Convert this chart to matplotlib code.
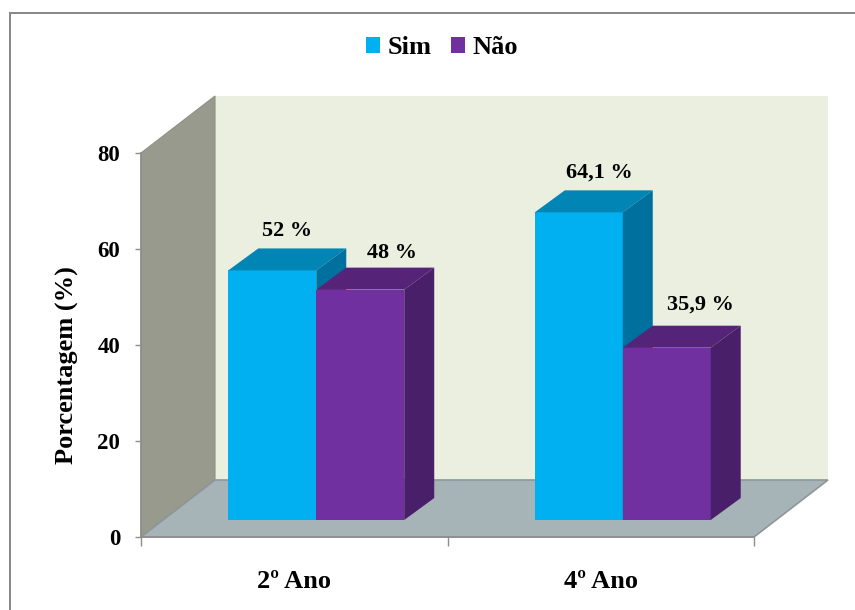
#Percentage of answers per school year, drawn as pseudo 3D columns
import matplotlib.pyplot as plt
from matplotlib.patches import Patch, Polygon, Rectangle

# Data
anos = ['2º Ano', '4º Ano']
sim = [52, 64.1]
nao = [48, 35.9]
sim_labels = ['52 %', '64,1 %']
nao_labels = ['48 %', '35,9 %']
y_ticks = [0, 20, 40, 60, 80]

plt.rcParams['font.family'] = ['Liberation Serif', 'DejaVu Serif']
plt.rcParams['font.weight'] = 'bold'

# Depth of the box and of the columns, in axis units
wall_dx, wall_dy = 0.2414, 11.875
base_dx, base_dy = 0.0718, 3.54
bar_dx, bar_dy = 0.0979, 4.58
bar_w = 0.287

fig = plt.figure(figsize=(8.55, 6.10), dpi=100)
ax = fig.add_axes([141/855, 73/610, 613/855, 384/610])
ax.set_xlim(0, 2)
ax.set_ylim(0, 80)

# Outer frame, only top and left edges are visible
fig.add_artist(Rectangle((10/855, -0.1), 1.1, 0.1 + 597/610, transform=fig.transFigure,
                         fill=False, ec='#868686', lw=1.4))

# Back wall, side wall and floor
wall = dict(clip_on=False, zorder=1)
ax.add_patch(Rectangle((wall_dx, wall_dy), 2, 80, fc='#EBEFDF', ec='none', **wall))
ax.add_patch(Polygon([(0, 0), (0, 80), (wall_dx, 80 + wall_dy), (wall_dx, wall_dy)],
                     fc='#979A8C', ec='#8C8F82', lw=0.8, **wall))
ax.add_patch(Polygon([(0, 0), (wall_dx, wall_dy), (2 + wall_dx, wall_dy), (2, 0)],
                     fc='#A6B4B8', ec='#8E9699', lw=1.2, **wall))


def column(x, value, front, top, side):
    # Front face comes from the bar call, top and side are added on it
    ax.bar(x, value, bar_w, bottom=base_dy, align='edge', color=front, clip_on=False, zorder=3)
    y0 = base_dy
    y1 = base_dy + value
    x1 = x + bar_w
    ax.add_patch(Polygon([(x, y1), (x + bar_dx, y1 + bar_dy), (x1 + bar_dx, y1 + bar_dy), (x1, y1)],
                         fc=top, ec='none', clip_on=False, zorder=3))
    ax.add_patch(Polygon([(x1, y0), (x1, y1), (x1 + bar_dx, y1 + bar_dy), (x1 + bar_dx, y0 + bar_dy)],
                         fc=side, ec='none', clip_on=False, zorder=3))


# label shift from the column top, in pixels
sim_off = [(0, 17), (6, 18)]
nao_off = [(26.5, 15), (28, 21)]
for i in range(len(anos)):
    centre = i + 0.5 + base_dx
    column(centre - bar_w, sim[i], '#00B0F0', '#0085B5', '#00719F')
    column(centre, nao[i], '#7030A0', '#552378', '#4A1F69')
    ax.annotate(sim_labels[i], (centre - bar_w/2 + bar_dx/2, base_dy + sim[i] + bar_dy),
                xytext=(sim_off[i][0]*0.72, sim_off[i][1]*0.72), textcoords='offset points',
                ha='center', va='center', fontsize=16, annotation_clip=False, zorder=5)
    ax.annotate(nao_labels[i], (centre + bar_w/2 + bar_dx/2, base_dy + nao[i] + bar_dy),
                xytext=(nao_off[i][0]*0.72 - 7, nao_off[i][1]*0.72), textcoords='offset points',
                ha='center', va='center', fontsize=16, annotation_clip=False, zorder=5)

# Axes
for s in ['top', 'right']:
    ax.spines[s].set_visible(False)
for s in ['left', 'bottom']:
    ax.spines[s].set_color('#8E8E8E')
    ax.spines[s].set_linewidth(1.2)
    ax.spines[s].set_zorder(2)
ax.set_yticks(y_ticks)
ax.tick_params(axis='y', length=4.5, width=1, color='#8E8E8E', labelsize=16.5, pad=10.5)
ax.set_xticks([0, 1, 2])
ax.set_xticklabels([])
ax.tick_params(axis='x', which='major', length=6.5, width=1, color='#8E8E8E')
ax.set_xticks([0.5, 1.5], minor=True)
ax.set_xticklabels(anos, minor=True, fontsize=19)
ax.tick_params(axis='x', which='minor', length=0, pad=23.7)
ax.set_ylabel('Porcentagem (%)', fontsize=19, fontweight='bold', va='center')
ax.yaxis.set_label_coords(-74/613, 0.448)

handles = [Patch(fc='#00B0F0', label='Sim'), Patch(fc='#7030A0', label='Não')]
fig.legend(handles=handles, ncol=2, frameon=False, fontsize=19, loc='center',
           bbox_to_anchor=(442/855, 1 - 48/610), handlelength=0.53, handleheight=0.53,
           handletextpad=0.27, columnspacing=0.76)

plt.savefig('out.png', dpi=100)
